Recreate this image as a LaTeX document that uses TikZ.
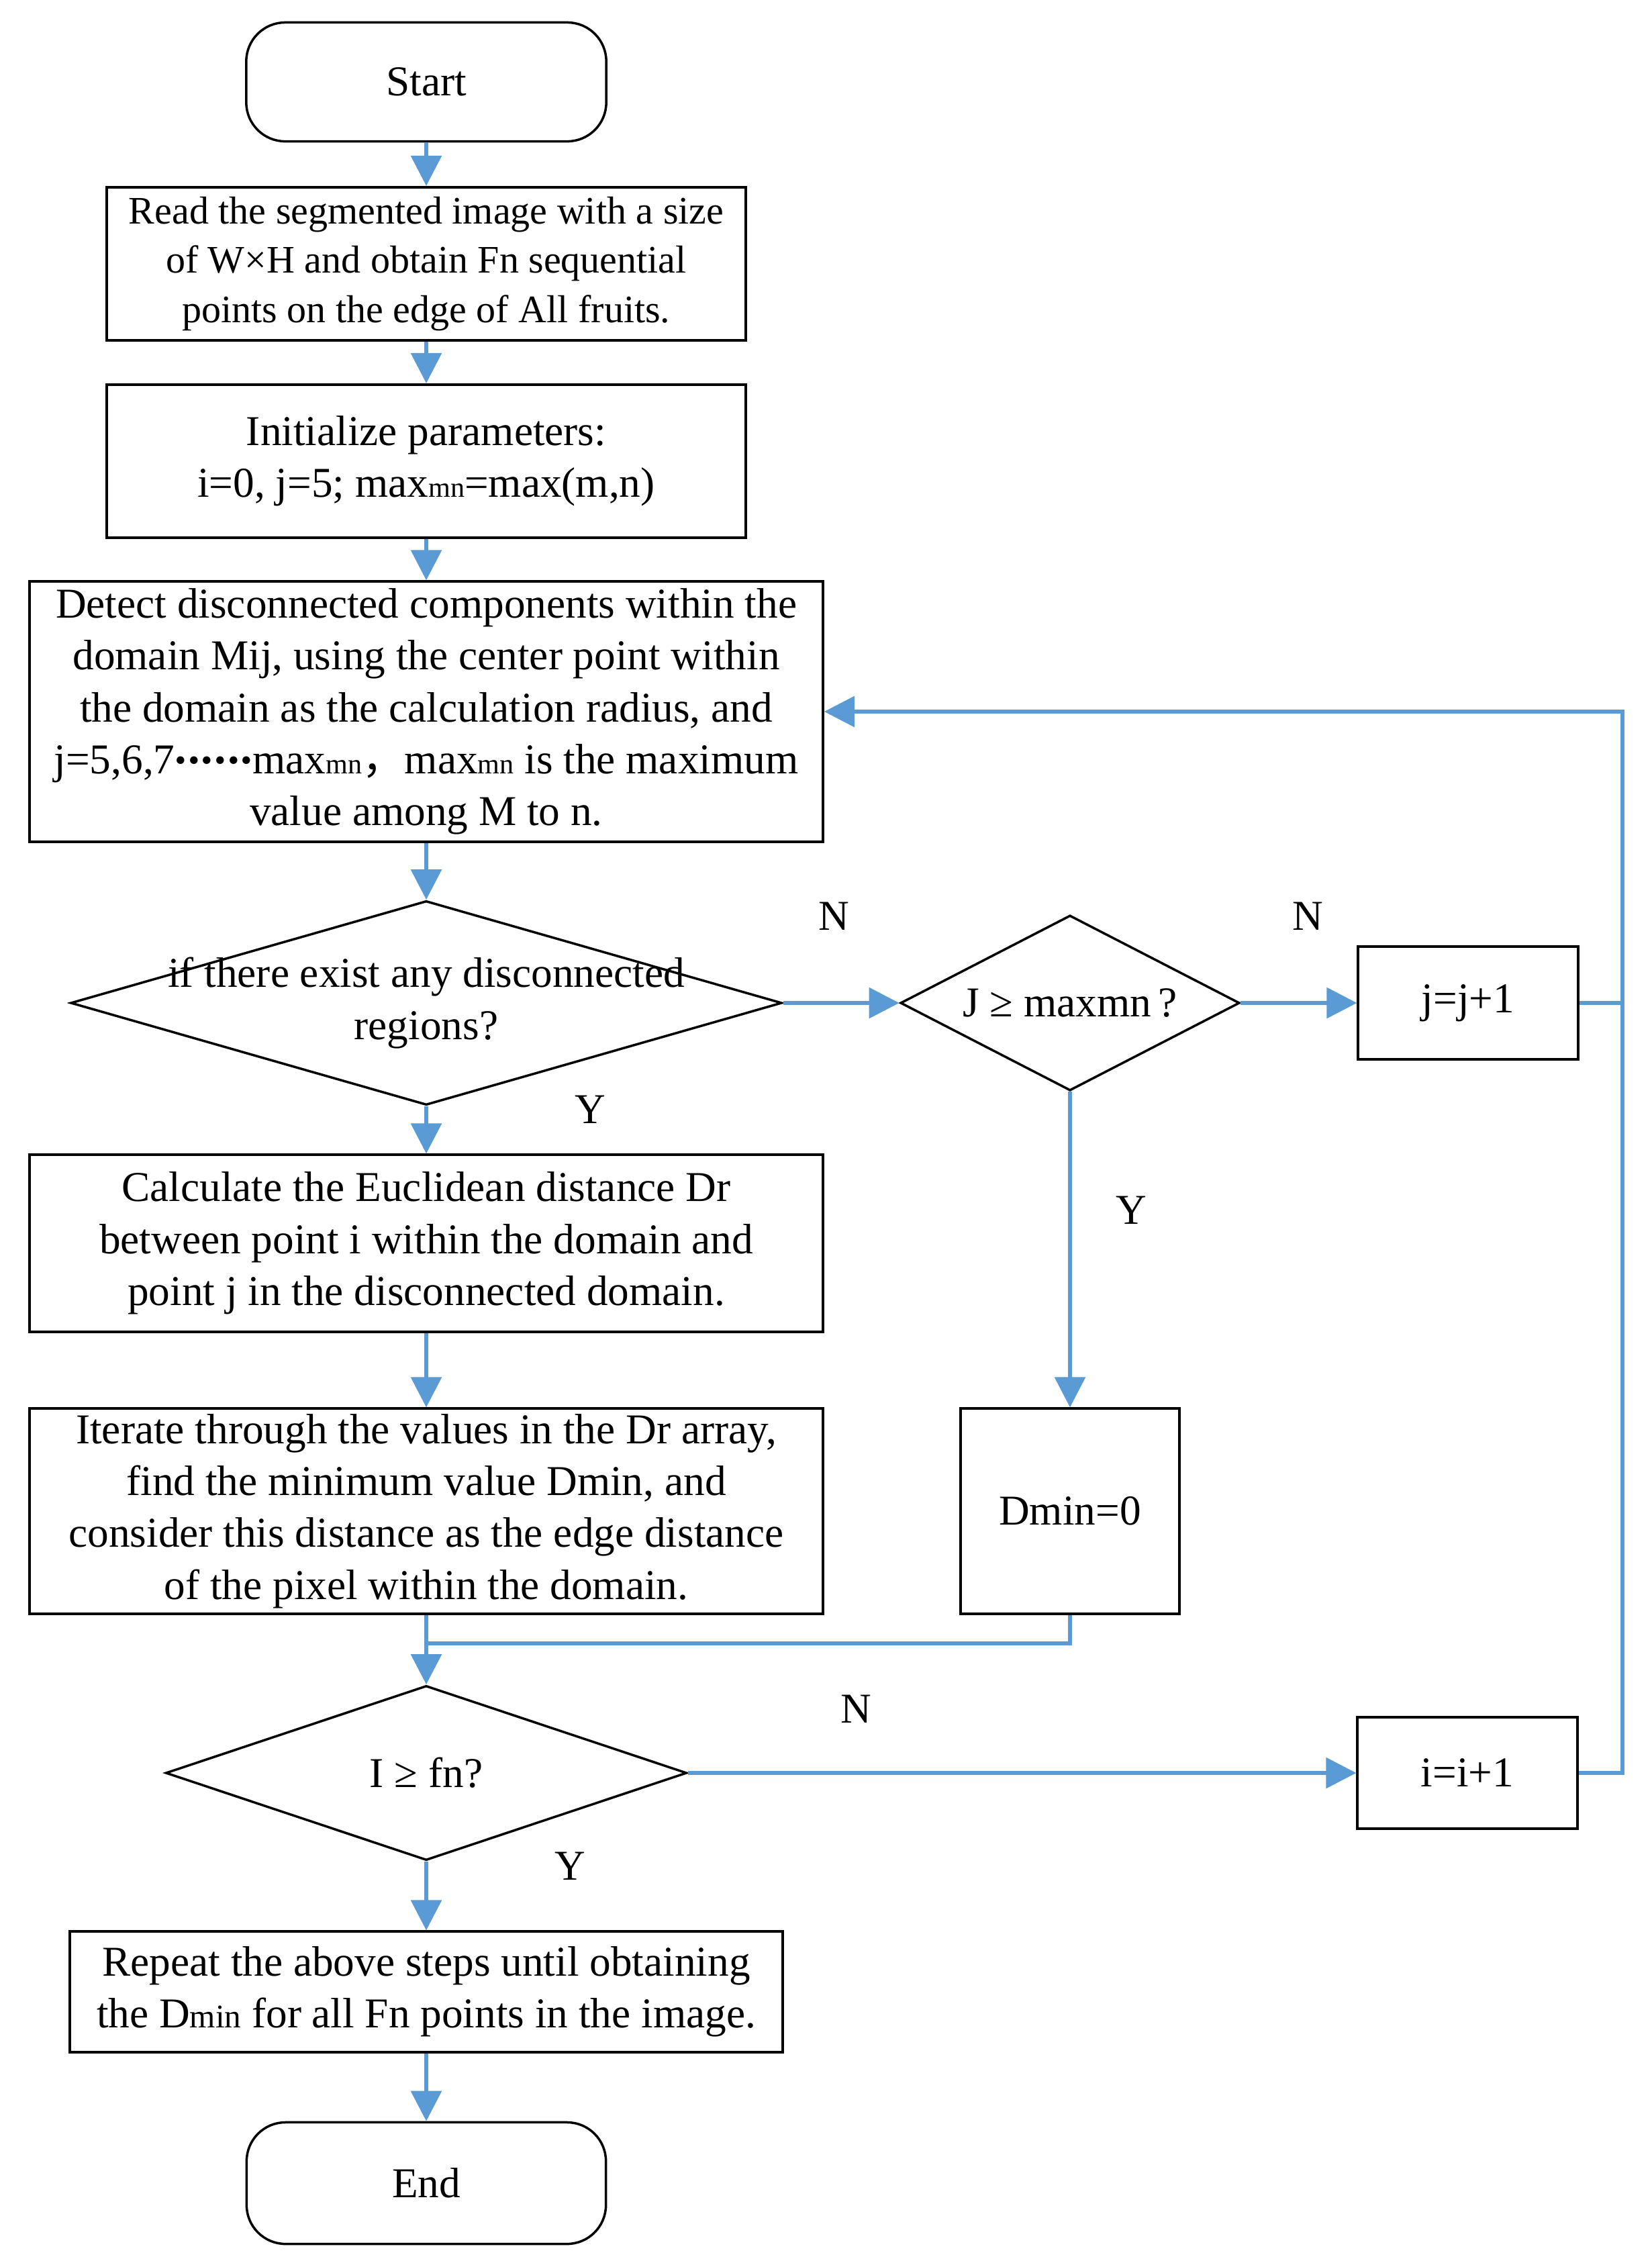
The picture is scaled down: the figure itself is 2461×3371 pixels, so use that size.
\documentclass[tikz,border=0pt]{standalone}
\usepackage{fontspec}
\setmainfont{Liberation Serif}
\newfontfamily\cjk{Noto Sans CJK SC}
\usetikzlibrary{shapes.geometric,arrows.meta,calc}
\definecolor{flowblue}{RGB}{91,155,213}
\newcommand\smallsub[1]{{\fontsize{12}{12}\selectfont #1}}
\newcommand\midsub[1]{{\fontsize{14}{14}\selectfont #1}}
\newcommand\dotrow{\raisebox{4.4pt}{\fontsize{20}{20}\selectfont\bfseries .\kern0.6pt.\kern0.6pt.\kern0.6pt.\kern0.6pt.\kern0.6pt.}}
\begin{document}
\begin{tikzpicture}[x=0.01cm,y=-0.01cm,
  every node/.style={font=\fontsize{18}{22}\selectfont, inner sep=0pt},
  procbox/.style={draw=black, line width=0.04cm, rectangle, align=center},
  termbox/.style={draw=black, line width=0.035cm, rectangle, rounded corners=0.58cm, align=center},
  decbox/.style={draw=black, line width=0.035cm, diamond},
  flow/.style={draw=flowblue, line width=0.06cm, -{Triangle[length=0.45cm,width=0.45cm]}},
  link/.style={draw=flowblue, line width=0.06cm}]
\useasboundingbox (0,0) rectangle (2461,3371);

\node[termbox, minimum width=5.36cm, minimum height=1.77cm] (start) at (635,122) {Start};
\node[procbox, minimum width=9.51cm, minimum height=2.28cm, font=\fontsize{16.5}{20.8}\selectfont] (read) at (635,393)
  {Read the segmented image with a size\\of W×H and obtain Fn sequential\\points on the edge of All fruits.};
\node[procbox, minimum width=9.51cm, minimum height=2.28cm] (init) at (635,687)
  {Initialize parameters:\\i=0, j=5; max\smallsub{mn}=max(m,n)};
\node[procbox, minimum width=11.81cm, minimum height=3.87cm] (detect) at (635,1060)
  {Detect disconnected components within the\\domain Mij, using the center point within\\the domain as the calculation radius, and\\j=5,6,7\dotrow max\smallsub{mn}{\cjk ，}max\smallsub{mn} is the maximum\\value among M to n.};

\node[decbox, minimum width=10.59cm, minimum height=3.04cm] (d1) at (635,1494) {};
\node[align=center] (d1t) at (d1.center) {if there exist any disconnected\\regions?};
\node[decbox, minimum width=5.05cm, minimum height=2.61cm] (d2) at (1594,1494) {};
\node (d2t) at (d2.center) {J ≥ maxmn\,?};
\node[procbox, minimum width=3.27cm, minimum height=1.67cm] (jbox) at (2187,1494) {j=j+1};

\node[procbox, minimum width=11.81cm, minimum height=2.63cm] (calc) at (635,1852)
  {Calculate the Euclidean distance Dr\\between point i within the domain and\\point j in the disconnected domain.};
\node[procbox, minimum width=11.81cm, minimum height=3.05cm] (iter) at (635,2251)
  {Iterate through the values in the Dr array,\\find the minimum value Dmin, and\\consider this distance as the edge distance\\of the pixel within the domain.};
\node[procbox, minimum width=3.26cm, minimum height=3.05cm] (dzero) at (1594,2251) {Dmin=0};

\node[decbox, minimum width=7.76cm, minimum height=2.60cm] (d3) at (635,2641) {};
\node (d3t) at (d3.center) {I ≥ fn?};
\node[procbox, minimum width=3.27cm, minimum height=1.65cm] (ibox) at (2186,2641) {i=i+1};

\node[procbox, minimum width=10.61cm, minimum height=1.79cm] (rep) at (635,2967)
  {Repeat the above steps until obtaining\\the D\midsub{min} for all Fn points in the image.};
\node[termbox, minimum width=5.35cm, minimum height=1.81cm] (end) at (635,3252) {End};

\node (n1) at (1242,1365) {N};
\node (n2) at (1948,1365) {N};
\node (y1) at (879,1653) {Y};
\node (y2) at (1685,1803) {Y};
\node (n3) at (1275,2546) {N};
\node (y3) at (849,2780) {Y};

\coordinate (merge) at (635,2448);
\coordinate (loopTop) at (2417,1060);
\coordinate (loopJ) at (2417,1494);

\draw[flow] (start.south) -- (read.north);
\draw[flow] (read.south) -- (init.north);
\draw[flow] (init.south) -- (detect.north);
\draw[flow] (detect.south) -- (d1.north);
\draw[flow] (d1.east) -- (d2.west);
\draw[flow] (d2.east) -- (jbox.west);
\draw[flow] (d1.south) -- (calc.north);
\draw[flow] (calc.south) -- (iter.north);
\draw[flow] (d2.south) -- (dzero.north);
\draw[flow] (iter.south) -- (d3.north);
\draw[link] (dzero.south) |- (merge);
\draw[flow] (d3.east) -- (ibox.west);
\draw[flow] (d3.south) -- (rep.north);
\draw[flow] (rep.south) -- (end.north);
\draw[flow] (ibox.east) -| (loopTop) -- (detect.east);
\draw[link] (jbox.east) -- (loopJ);
\end{tikzpicture}
\end{document}
